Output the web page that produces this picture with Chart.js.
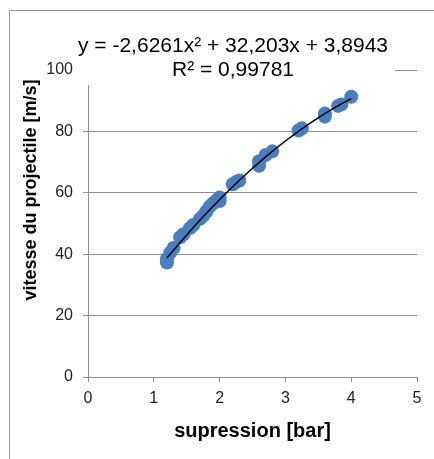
<!DOCTYPE html>
<html>
<head>
<meta charset="utf-8">
<script src="https://cdn.jsdelivr.net/npm/chart.js@4.4.1/dist/chart.umd.min.js"></script>
<style>
  body { margin: 0; background: #fff; }
  canvas { display: block; }
</style>
</head>
<body>
<canvas id="scatter-chart" width="434" height="459"></canvas>
<script>
// measurements: supply pressure [bar] vs projectile speed [m/s]
const pressure = [1.2, 1.2, 1.25, 1.3, 1.4, 1.45, 1.55, 1.6, 1.7, 1.75, 1.8, 1.85, 1.9, 1.95, 2.0, 2.0,
                  2.2, 2.25, 2.3, 2.6, 2.6, 2.7, 2.8, 3.2, 3.25, 3.6, 3.6, 3.8, 3.85, 4.0];
const velocity = [37.3, 38.5, 40.5, 42.0, 45.5, 46.5, 48.5, 49.5, 51.5, 52.5, 54.0, 55.5, 56.5, 57.5, 58.5, 57.3,
                  62.8, 63.5, 64.0, 68.8, 70.3, 72.3, 73.5, 80.3, 81.0, 84.8, 85.8, 88.3, 88.8, 91.3];

// polynomial trendline, order 2 (a, b, c)
const fitCoeffs = [-2.6261, 32.203, 3.8943];
const fitRange = [1.2, 4.0];
const fitLabel = ['y = -2,6261x² + 32,203x + 3,8943', 'R² = 0,99781'];

const xTitle = 'supression [bar]';
const yTitle = 'vitesse du projectile [m/s]';

const fitPoints = [];
for (let x = fitRange[0]; x <= fitRange[1] + 1e-9; x += 0.05) {
  fitPoints.push({ x: x, y: fitCoeffs[0] * x * x + fitCoeffs[1] * x + fitCoeffs[2] });
}

const gridColor = '#8e8e8e';
const font = 'Liberation Sans, Arial, sans-serif';

const decorations = {
  id: 'decorations',
  beforeDraw(chart) {
    const c = chart.ctx;
    c.save();
    c.fillStyle = '#fff';
    c.fillRect(0, 0, chart.width, chart.height);
    // outer frame
    c.strokeStyle = '#9a9a9a';
    c.lineWidth = 1;
    c.beginPath();
    c.moveTo(9.5, chart.height);
    c.lineTo(9.5, 10.5);
    c.lineTo(chart.width, 10.5);
    c.stroke();
    c.restore();
  },
  afterDraw(chart) {
    const c = chart.ctx;
    const area = chart.chartArea;
    c.save();
    // trendline label box
    c.fillStyle = '#fff';
    c.fillRect(area.left - 8, 28, 395 - area.left + 8, 57);
    c.fillStyle = '#000';
    c.font = '21px ' + font;
    c.textAlign = 'center';
    c.textBaseline = 'middle';
    c.fillText(fitLabel[0], 233, 46);
    c.fillText(fitLabel[1], 233, 70);
    // axis titles
    c.font = 'bold 20px ' + font;
    c.fillText(xTitle, (area.left + area.right) / 2, 431);
    c.font = 'bold 18px ' + font;
    c.translate(31, 190);
    c.rotate(-Math.PI / 2);
    c.fillText(yTitle, 0, 0);
    c.restore();
  }
};

const ctx = document.getElementById('scatter-chart').getContext('2d');

new Chart(ctx, {
  type: 'scatter',
  data: {
    datasets: [{
      label: 'fit',
      data: fitPoints,
      showLine: true,
      borderColor: '#000',
      borderWidth: 1.5,
      pointRadius: 0,
      order: 0
    }, {
      label: 'mesures',
      data: pressure.map((p, i) => ({ x: p, y: velocity[i] })),
      backgroundColor: '#4a7ebf',
      borderColor: '#4a7ebf',
      borderWidth: 0,
      pointRadius: 7,
      order: 1
    }]
  },
  options: {
    responsive: false,
    animation: false,
    layout: { padding: { top: 70, right: 17, left: 0, bottom: 0 } },
    plugins: {
      legend: { display: false },
      tooltip: { enabled: false }
    },
    scales: {
      x: {
        min: 0,
        max: 5,
        afterFit(scale) { scale.height = 82; },
        ticks: {
          stepSize: 1,
          padding: 7,
          color: '#222',
          font: { family: font, size: 16 }
        },
        grid: { drawOnChartArea: false, tickLength: 5, color: gridColor },
        border: { color: gridColor }
      },
      y: {
        min: 0,
        max: 100,
        afterFit(scale) { scale.width = 88; },
        ticks: {
          stepSize: 20,
          padding: 10,
          color: '#222',
          font: { family: font, size: 16 }
        },
        grid: { color: gridColor, tickLength: 5 },
        border: { color: gridColor }
      }
    }
  },
  plugins: [decorations]
});
</script>
</body>
</html>
